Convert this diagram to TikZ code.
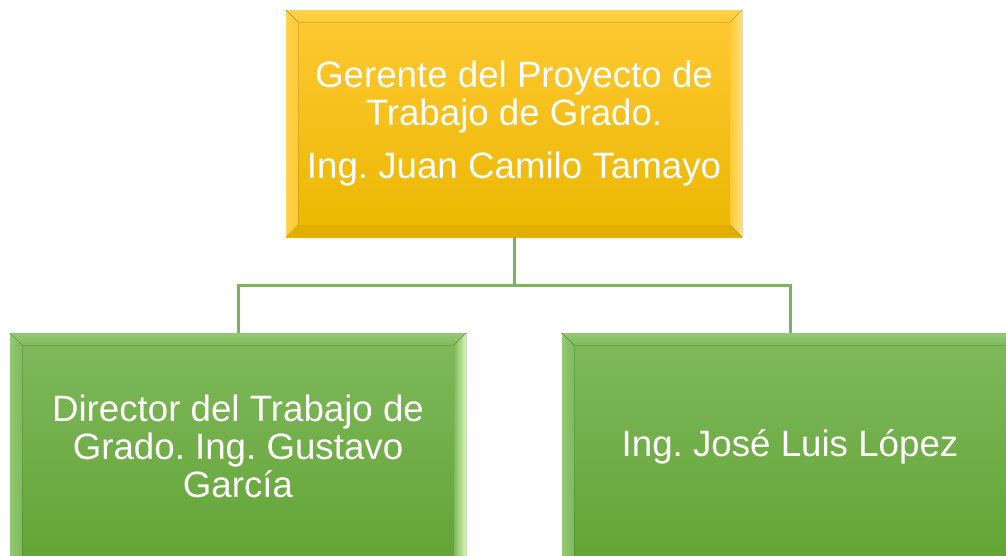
\documentclass[tikz,border=0pt]{standalone}
\usepackage{fontspec}
\setmainfont{Liberation Sans}
\usetikzlibrary{calc}
\definecolor{goldtop}{HTML}{FFC935}
\definecolor{goldbot}{HTML}{EBB700}
\definecolor{goldhi}{HTML}{FFE27A}
\definecolor{goldleft}{HTML}{FFD450}
\definecolor{golddark}{HTML}{E2AE00}
\definecolor{greentop}{HTML}{80B95D}
\definecolor{greenbot}{HTML}{63A436}
\definecolor{greenhi}{HTML}{D6F7B4}
\definecolor{greenleft}{HTML}{93C972}
\definecolor{greendark}{HTML}{5C9A32}
\definecolor{conncol}{HTML}{7AB55B}
% #1 base, #2 highlight, #3 left tint, #4 dark, #5 bottom bevel depth
\newcommand\bevelfx[5]{%
  \path (path picture bounding box.north west) coordinate (bNW)
        (path picture bounding box.north east) coordinate (bNE)
        (path picture bounding box.south west) coordinate (bSW)
        (path picture bounding box.south east) coordinate (bSE);
  \fill[left color=#3, right color=#1] (bNW) -- ([shift={(12pt,-12pt)}]bNW) -- ([shift={(12pt,#5)}]bSW) -- (bSW) -- cycle;
  \fill[#4] (bSW) -- ([shift={(12pt,#5)}]bSW) -- ([shift={(-12pt,#5)}]bSE) -- (bSE) -- cycle;
  \fill[left color=#1, right color=#2] (bNE) -- (bSE) -- ([shift={(-12pt,#5)}]bSE) -- ([shift={(-12pt,-12pt)}]bNE) -- cycle;
  \fill[top color=#3, middle color=#2, bottom color=#1] (bNW) -- (bNE) -- ([shift={(-12pt,-12pt)}]bNE) -- ([shift={(12pt,-12pt)}]bNW) -- cycle;
}
\tikzset{
  orgbox/.style={rectangle, minimum width=456pt, minimum height=227pt, inner sep=0pt,
    text=white, align=center, font=\fontsize{36.7}{38}\selectfont\frenchspacing},
  goldbox/.style={orgbox, top color=goldtop, bottom color=goldbot,
    path picture={\bevelfx{goldtop}{goldhi}{goldleft}{golddark}{12pt}}},
  greenbox/.style={orgbox, top color=greentop, bottom color=greenbot,
    path picture={\bevelfx{greentop}{greenhi}{greenleft}{greendark}{0pt}}},
  conn/.style={draw=conncol, line width=3pt}
}
\begin{document}
\begin{tikzpicture}[x=1pt, y=-1pt]
  \useasboundingbox (0,0) rectangle (1006,555);
  \clip (0,0) rectangle (1006,555);
  \fill[white] (0,0) rectangle (1006,555);
  \node[goldbox] (top) at (514,123.5) {Gerente del Proyecto de\\Trabajo de Grado.\\[15pt]Ing. Juan Camilo Tamayo};
  \node[greenbox] (left) at (238,446.5) {Director del Trabajo de\\Grado. Ing. Gustavo\\García};
  \node[greenbox] (right) at (790,446.5) {Ing. José Luis López};
  \coordinate (bus) at (514,285);
  \draw[conn] (top.south) -- (bus) -| (left.north);
  \draw[conn] (bus) -| (right.north);
\end{tikzpicture}
\end{document}
